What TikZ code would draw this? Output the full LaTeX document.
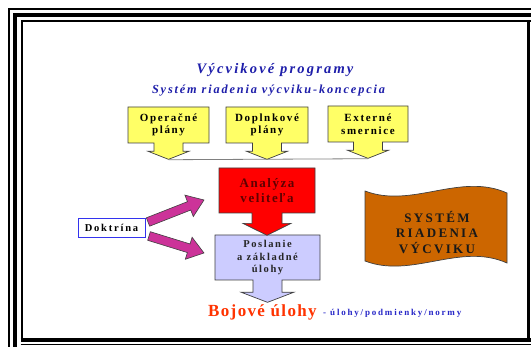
\documentclass[tikz,border=0pt]{standalone}
\usepackage{fontspec}
\setmainfont{Liberation Serif}
\newfontfamily\fTitle[LetterSpace=15]{Liberation Serif}
\newfontfamily\fSub[LetterSpace=15]{Liberation Serif}
\newfontfamily\fBox[LetterSpace=15]{Liberation Serif}
\newfontfamily\fRed[LetterSpace=12]{Liberation Serif}
\newfontfamily\fDok[LetterSpace=17]{Liberation Serif}
\newfontfamily\fSys[LetterSpace=18]{Liberation Serif}
\newfontfamily\fBoj[LetterSpace=8]{Liberation Serif}
\newfontfamily\fNote[LetterSpace=20]{Liberation Serif}
\usetikzlibrary{shapes.arrows,calc}
\definecolor{tblue}{RGB}{30,30,170}
\definecolor{nblue}{RGB}{40,40,200}
\definecolor{cyel}{RGB}{255,255,102}
\definecolor{cred}{RGB}{255,0,0}
\definecolor{dred}{RGB}{96,0,0}
\definecolor{clav}{RGB}{204,204,255}
\definecolor{cmag}{RGB}{204,51,153}
\definecolor{corange}{RGB}{204,102,0}
\definecolor{cboj}{RGB}{255,51,0}
\definecolor{edge}{RGB}{64,64,64}
\definecolor{dblue}{RGB}{51,51,238}
\tikzset{
  callout/.style={arrow box, draw=edge, line width=0.7pt, inner sep=0pt, align=center},
  yelbox/.style={callout, fill=cyel, minimum width=81pt, minimum height=36pt,
    arrow box arrows={south:16pt from border}, arrow box shaft width=29pt,
    arrow box head extend=6pt, arrow box tip angle=137,
    font=\fBox\bfseries\fontsize{11}{12.5}\selectfont},
  fatarrow/.style={fill=cmag, draw=edge, line width=0.6pt},
  frame/.style={black}
}
\begin{document}
\begin{tikzpicture}[x=1pt,y=-1pt]
\useasboundingbox[fill=white] (0,0) rectangle (531,347);
% frame
\draw[frame, line width=1.7pt] (8.7,347) -- (8.7,8.7) -- (531,8.7);
\draw[frame, line width=4pt] (14.7,347) -- (14.7,14.7) -- (531,14.7);
\draw[frame, line width=2pt] (21.5,340) -- (21.5,21.5) -- (531,21.5);
\draw[frame, line width=2.7pt] (528.7,21.5) -- (528.7,340);
\draw[frame, line width=4pt] (20.5,340) -- (531,340);
\draw[frame, line width=1.5pt] (20.5,344.3) -- (531,344.3);
% titles
\node[anchor=base, inner sep=0, text=tblue, font=\fTitle\bfseries\itshape\fontsize{14.5}{17}\selectfont] (title) at (275,74) {Výcvikové programy};
\node[anchor=base, inner sep=0, text=tblue, font=\fSub\bfseries\itshape\fontsize{12.3}{14}\selectfont] (sub) at (268.5,94) {Systém riadenia výcviku-koncepcia};
% yellow callouts
\node[yelbox] (y1) at (168.5,125) {Operačné\\plány};
\node[yelbox, minimum width=82pt] (y2) at (267,125) {Doplnkové\\plány};
\node[yelbox, minimum width=80pt] (y3) at (368,124) {Externé\\smernice};
\draw[gray, line width=0.8pt] (y1.south arrow tip) -- (y3.south arrow tip);
% lavender
\node[callout, fill=clav, minimum width=105pt, minimum height=45pt,
  arrow box arrows={south:22pt from border}, arrow box shaft width=29pt,
  arrow box head extend=12pt, arrow box tip angle=138, text=black!85,
  font=\fBox\bfseries\fontsize{10.5}{12.5}\selectfont] (lav) at (267.5,257.5) {Poslanie\\a základné\\úlohy};
% red
\node[callout, fill=cred, minimum width=96pt, minimum height=45pt,
  arrow box arrows={south:22pt from border}, arrow box shaft width=30pt,
  arrow box head extend=9pt, arrow box tip angle=127, text=dred,
  font=\fRed\bfseries\fontsize{13}{15}\selectfont] (red) at (267,190.5) {Analýza\\veliteľa};
% doktrina
\node[draw=dblue, line width=0.7pt, fill=white, minimum width=67pt, minimum height=19pt, inner sep=0pt,
  font=\fDok\bfseries\fontsize{10.5}{12}\selectfont] (dok) at (111.5,227.5) {Doktrína};
% magenta arrows
\coordinate (a1s) at (148,222);
\coordinate (a1e) at (204,200);
\coordinate (a1n) at ($(a1e)!16pt!(a1s)$);
\draw[fatarrow] ($(a1s)!4.5pt!-90:(a1e)$) -- ($(a1n)!4.5pt!-90:(a1e)$) -- ($(a1n)!11.5pt!-90:(a1e)$) -- (a1e)
  -- ($(a1n)!11.5pt!90:(a1e)$) -- ($(a1n)!4.5pt!90:(a1e)$) -- ($(a1s)!4.5pt!90:(a1e)$) -- cycle;
\coordinate (a2s) at (149,236);
\coordinate (a2e) at (204,253);
\coordinate (a2n) at ($(a2e)!16pt!(a2s)$);
\draw[fatarrow] ($(a2s)!4.5pt!-90:(a2e)$) -- ($(a2n)!4.5pt!-90:(a2e)$) -- ($(a2n)!11.5pt!-90:(a2e)$) -- (a2e)
  -- ($(a2n)!11.5pt!90:(a2e)$) -- ($(a2n)!4.5pt!90:(a2e)$) -- ($(a2s)!4.5pt!90:(a2e)$) -- cycle;
% wave banner
\draw[fill=corange, draw=edge, line width=0.7pt] (365,191) .. controls (412,209) and (460,172) .. (507,193)
  -- (507,263) .. controls (460,242) and (412,279) .. (365,261) -- cycle;
\node[align=center, inner sep=0, text=black!90, font=\fSys\bfseries\fontsize{13}{15.5}\selectfont] (sys) at (437,232.5) {SYSTÉM\\RIADENIA\\VÝCVIKU};
% bottom texts
\node[anchor=base west, inner sep=0, text=cboj, font=\fBoj\bfseries\fontsize{17}{20}\selectfont] (boj) at (208,317) {Bojové úlohy};
\node[anchor=base west, inner sep=0, text=nblue, font=\fNote\bfseries\fontsize{9}{11}\selectfont] (note) at (323,315.5) {- úlohy/podmienky/normy};
\end{tikzpicture}
\end{document}
